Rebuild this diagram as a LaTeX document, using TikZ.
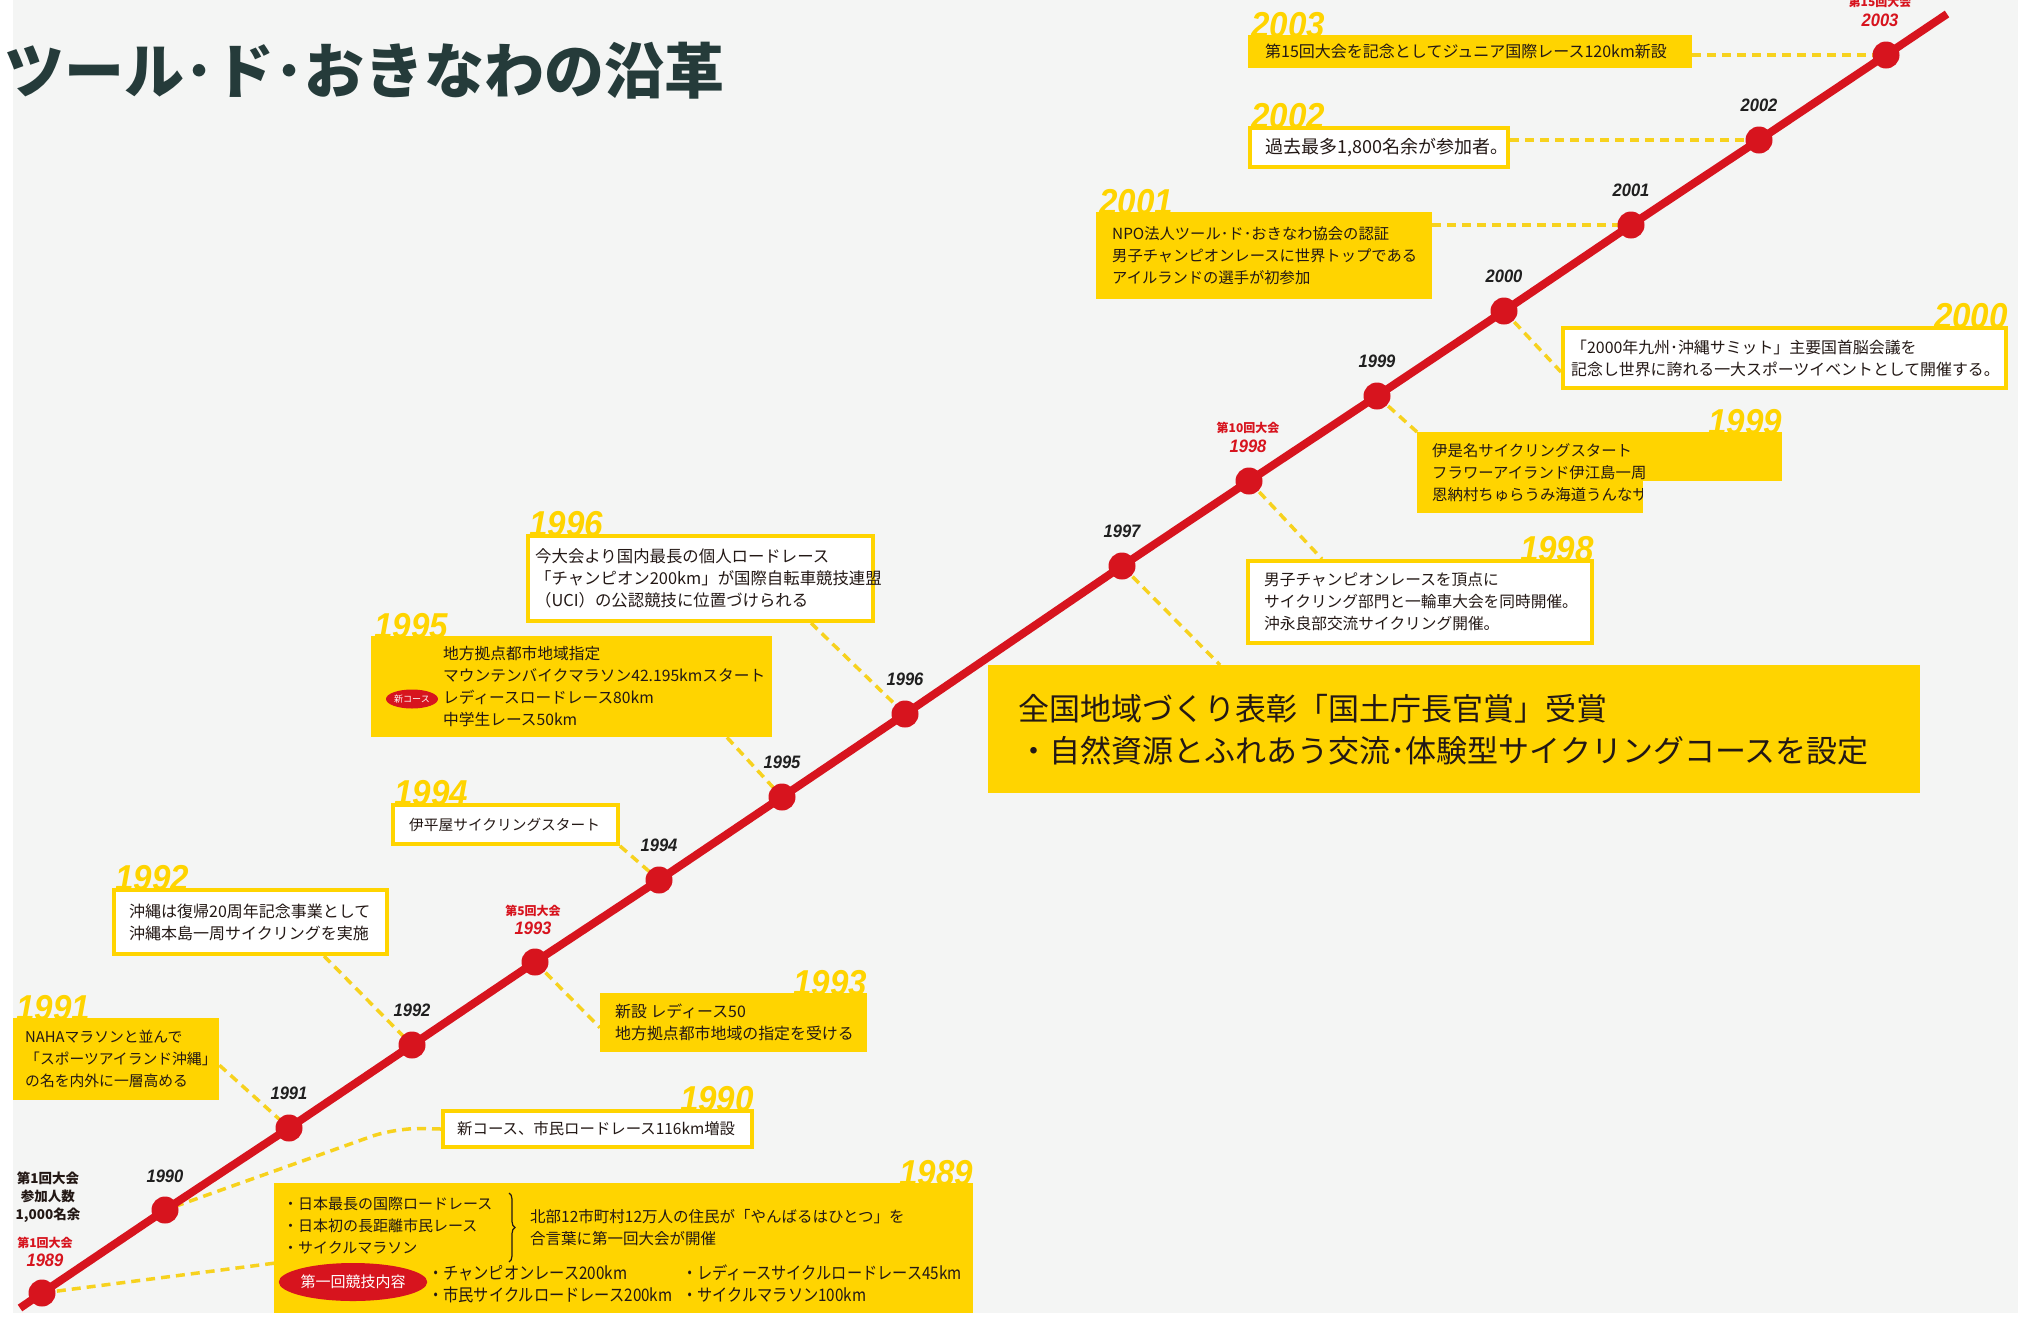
\documentclass[tikz,border=0pt]{standalone}
\usepackage{fontspec}
\setmainfont{Liberation Sans}
\newfontfamily\jp{Noto Sans CJK JP}
\newfontfamily\jpc[FakeStretch=0.88]{Noto Sans CJK JP}
\newfontfamily\yr[FakeStretch=0.92]{Liberation Sans}
\usetikzlibrary{calc,shapes.geometric,decorations.pathreplacing}
\definecolor{bgc}{HTML}{F4F5F4}
\definecolor{yel}{HTML}{FFD400}
\definecolor{connc}{HTML}{F7D21E}
\definecolor{rl}{HTML}{D7141E}
\definecolor{txt}{HTML}{231815}
\definecolor{ttl}{HTML}{253B3A}
\pgfdeclarelayer{under}
\pgfsetlayers{under,main}
\tikzset{
  ybox/.style={draw=none, fill=yel, inner sep=0, anchor=north west},
  wbox/.style={draw=yel, line width=4pt, fill=white, inner sep=0, anchor=north west},
  btxt/.style={font=\jp\fontsize{#1}{22}\selectfont, text=txt, align=left, inner sep=0, anchor=west},
  ctxt/.style={font=\jpc\fontsize{#1}{22}\selectfont, text=txt, align=left, inner sep=0, anchor=west},
  yrlab/.style={font=\yr\bfseries\itshape\fontsize{36}{36}\selectfont, text=yel, inner sep=0},
  dotc/.style={circle, fill=rl, minimum size=27pt, inner sep=0},
  dlab/.style={font=\yr\bfseries\itshape\fontsize{18}{18}\selectfont, text=black!88, inner sep=0},
  rsub/.style={font=\jp\bfseries\fontsize{12}{12}\selectfont, text=rl, inner sep=0},
  conn/.style={draw=connc, line width=3.5pt, dash pattern=on 9pt off 6pt},
  redline/.style={draw=rl, line width=8pt}
}
\begin{document}
\begin{tikzpicture}[x=1pt,y=-1pt]
\useasboundingbox (0,0) rectangle (2018,1318);

% title
\node[font=\jp\bfseries\fontsize{60}{60}\selectfont, text=ttl, anchor=west, inner sep=0] (title) at (4,71) {ツール･ド･おきなわの沿革};

% dots
\node[dotc] (d1989) at (42,1293) {};
\node[dotc] (d1990) at (165,1210) {};
\node[dotc] (d1991) at (289,1128) {};
\node[dotc] (d1992) at (412,1045) {};
\node[dotc] (d1993) at (535,962) {};
\node[dotc] (d1994) at (659,880) {};
\node[dotc] (d1995) at (782,797) {};
\node[dotc] (d1996) at (905,714) {};
\node[dotc] (d1997) at (1122,566) {};
\node[dotc] (d1998) at (1249,481) {};
\node[dotc] (d1999) at (1377,396) {};
\node[dotc] (d2000) at (1504,311) {};
\node[dotc] (d2001) at (1631,225) {};
\node[dotc] (d2002) at (1759,140) {};
\node[dotc] (d2003) at (1886,55) {};
\coordinate (ls) at (20,1308);
\coordinate (le) at (1947,14);

% dot labels
\node[dlab] (l1990) at (165,1176) {1990};
\node[dlab] (l1991) at (289,1093) {1991};
\node[dlab] (l1992) at (412,1010) {1992};
\node[dlab] (l1994) at (659,845) {1994};
\node[dlab] (l1995) at (782,762) {1995};
\node[dlab] (l1996) at (905,679) {1996};
\node[dlab] (l1997) at (1122,531) {1997};
\node[dlab] (l1999) at (1377,361) {1999};
\node[dlab] (l2000) at (1504,276) {2000};
\node[dlab] (l2001) at (1631,190) {2001};
\node[dlab] (l2002) at (1759,105) {2002};
\node[dlab, text=rl] (l1989) at (45,1260) {1989};
\node[rsub] (s1989) at (45,1243) {第1回大会};
\node[dlab, text=rl] (l1993) at (533,928) {1993};
\node[rsub] (s1993) at (533,911) {第5回大会};
\node[dlab, text=rl] (l1998) at (1248,446) {1998};
\node[rsub] (s1998) at (1248,428) {第10回大会};
\node[dlab, text=rl] (l2003) at (1880,20) {2003};
\node[rsub] (s2003) at (1880,2) {第15回大会};
\node[font=\jp\bfseries\fontsize{13.5}{18}\selectfont, text=txt, align=center, inner sep=0] (n1989) at (48,1197) {第1回大会\\参加人数\\1,000名余};

% boxes
\node[ybox, minimum width=444pt, minimum height=33pt] (b2003) at (1248,35) {};
\node[wbox, minimum width=258pt, minimum height=39pt] (b2002) at (1248,126) {};
\node[ybox, minimum width=336pt, minimum height=87pt] (b2001) at (1096,212) {};
\node[wbox, minimum width=443pt, minimum height=60pt] (b2000) at (1561,326) {};
\node[ybox, minimum width=365pt, minimum height=81pt] (b1999) at (1417,432) {};
\node[wbox, minimum width=344pt, minimum height=82pt] (b1998) at (1246,559) {};
\node[ybox, minimum width=932pt, minimum height=128pt] (bbig) at (988,665) {};
\node[wbox, minimum width=345pt, minimum height=85pt] (b1996) at (526,534) {};
\node[ybox, minimum width=401pt, minimum height=101pt] (b1995) at (371,636) {};
\node[wbox, minimum width=225pt, minimum height=39pt] (b1994) at (391,803) {};
\node[ybox, minimum width=267pt, minimum height=59pt] (b1993) at (600,993) {};
\node[wbox, minimum width=273pt, minimum height=64pt] (b1992) at (112,888) {};
\node[ybox, minimum width=206pt, minimum height=82pt] (b1991) at (13,1018) {};
\node[wbox, minimum width=309pt, minimum height=36pt] (b1990) at (441,1109) {};
\node[ybox, minimum width=699pt, minimum height=130pt] (b1989) at (274,1183) {};

% box texts
\node[btxt=16] (t2003) at ([xshift=17pt]b2003.west) {第15回大会を記念としてジュニア国際レース120km新設};
\node[btxt=18] (t2002) at ([xshift=17pt]b2002.west) {過去最多1,800名余が参加者。};
\node[btxt=15.3] (t2001) at ([xshift=16pt]b2001.west) {NPO法人ツール･ド･おきなわ協会の認証\\男子チャンピオンレースに世界トップである\\アイルランドの選手が初参加};
\node[btxt=15.9] (t2000) at ([xshift=10pt]b2000.west) {「2000年九州･沖縄サミット」主要国首脳会議を\\記念し世界に誇れる一大スポーツイベントとして開催する。};
\node[btxt=15.4] (t1999) at ([xshift=15pt]b1999.west) {伊是名サイクリングスタート\\フラワーアイランド伊江島一周\\恩納村ちゅらうみ海道うんなサ};
\fill[bgc] (1643,481) rectangle (1786,517);
\node[btxt=15.7] (t1998) at ([xshift=18pt]b1998.west) {男子チャンピオンレースを頂点に\\サイクリング部門と一輪車大会を同時開催。\\沖永良部交流サイクリング開催。};
\node[font=\jp\fontsize{31}{42}\selectfont, text=txt, align=left, inner sep=0, anchor=west] (tbig) at ([xshift=30pt]bbig.west) {全国地域づくり表彰「国土庁長官賞」受賞\\・自然資源とふれあう交流･体験型サイクリングコースを設定};
\node[btxt=16.4] (t1996) at ([xshift=9pt]b1996.west) {今大会より国内最長の個人ロードレース\\「チャンピオン200km」が国際自転車競技連盟\\（UCI）の公認競技に位置づけられる};
\node[btxt=15.7] (t1995) at ([xshift=72pt]b1995.west) {地方拠点都市地域指定\\マウンテンバイクマラソン42.195kmスタート\\レディースロードレース80km\\中学生レース50km};
\node[ellipse, fill=rl, minimum width=52pt, minimum height=19pt, inner sep=0, text=white, font=\jp\fontsize{9}{9}\selectfont] (e1995) at (412,699) {新コース};
\node[btxt=14.7] (t1994) at ([xshift=18pt]b1994.west) {伊平屋サイクリングスタート};
\node[btxt=15.9] (t1993) at ([xshift=15pt]b1993.west) {新設 レディース50\\地方拠点都市地域の指定を受ける};
\node[btxt=16] (t1992) at ([xshift=17pt]b1992.west) {沖縄は復帰20周年記念事業として\\沖縄本島一周サイクリングを実施};
\node[btxt=14.8] (t1991) at ([xshift=12pt]b1991.west) {NAHAマラソンと並んで\\「スポーツアイランド沖縄」\\の名を内外に一層高める};
\node[btxt=15.4] (t1990) at ([xshift=16pt]b1990.west) {新コース、市民ロードレース116km増設};

% 1989 box content
\node[btxt=15] (t1989a) at (283,1226) {・日本最長の国際ロードレース\\・日本初の長距離市民レース\\・サイクルマラソン};
\draw[decorate, decoration={brace, amplitude=6pt}, line width=1.2pt, draw=txt] (509,1193) -- (509,1262);
\node[btxt=15.5] (t1989b) at (530,1228) {北部12市町村12万人の住民が「やんばるはひとつ」を\\合言葉に第一回大会が開催};
\node[ellipse, fill=rl, minimum width=128pt, minimum height=38pt, inner sep=0, text=white, font=\jp\fontsize{15}{15}\selectfont] (e1989) at (353,1282) {第一回競技内容};
\node[ctxt=17.3] (t1989c) at (428,1284) {・チャンピオンレース200km\\・市民サイクルロードレース200km};
\node[ctxt=17.3] (t1989d) at (682,1284) {・レディースサイクルロードレース45km\\・サイクルマラソン100km};

\begin{pgfonlayer}{under}
\fill[white] (0,0) rectangle (2018,1318);
\fill[bgc] (13,0) rectangle (2018,1313);
% year labels
\node[yrlab, anchor=south west] (y2003) at ([xshift=3pt,yshift=-3pt]b2003.north west) {2003};
\node[yrlab, anchor=south west] (y2002) at ([xshift=3pt,yshift=-3pt]b2002.north west) {2002};
\node[yrlab, anchor=south west] (y2001) at ([xshift=3pt,yshift=-3pt]b2001.north west) {2001};
\node[yrlab, anchor=south east] (y2000) at ([yshift=-3pt]b2000.north east) {2000};
\node[yrlab, anchor=south east] (y1999) at ([yshift=-3pt]b1999.north east) {1999};
\node[yrlab, anchor=south east] (y1998) at ([yshift=-3pt]b1998.north east) {1998};
\node[yrlab, anchor=south west] (y1996) at ([xshift=3pt,yshift=-3pt]b1996.north west) {1996};
\node[yrlab, anchor=south west] (y1995) at ([xshift=3pt,yshift=-3pt]b1995.north west) {1995};
\node[yrlab, anchor=south west] (y1994) at ([xshift=3pt,yshift=-3pt]b1994.north west) {1994};
\node[yrlab, anchor=south east] (y1993) at ([yshift=-3pt]b1993.north east) {1993};
\node[yrlab, anchor=south west] (y1992) at ([xshift=3pt,yshift=-3pt]b1992.north west) {1992};
\node[yrlab, anchor=south west] (y1991) at ([xshift=3pt,yshift=-3pt]b1991.north west) {1991};
\node[yrlab, anchor=south east] (y1990) at ([yshift=-3pt]b1990.north east) {1990};
\node[yrlab, anchor=south east] (y1989) at ([yshift=-3pt]b1989.north east) {1989};
% connectors
\draw[conn] (d2003 -| b2003.east) -- (d2003.center);
\draw[conn] (d2002 -| b2002.east) -- (d2002.center);
\draw[conn] (d2001 -| b2001.east) -- (d2001.center);
\draw[conn] (d2000.center) -- ([yshift=-14pt]b2000.west);
\draw[conn] (d1999.center) -- (b1999.north west);
\draw[conn] (d1998.center) -- ([xshift=76pt]b1998.north west);
\draw[conn] (d1997.center) -- ([xshift=232pt]bbig.north west);
\draw[conn] ([xshift=285pt]b1996.south west) -- (d1996.center);
\draw[conn] ([xshift=356pt]b1995.south west) -- (d1995.center);
\draw[conn] (b1994.south east) -- (d1994.center);
\draw[conn] (d1993.center) -- ([yshift=-5pt]b1993.west);
\draw[conn] ([xshift=212pt]b1992.south west) -- (d1992.center);
\draw[conn] ([yshift=-6pt]b1991.east) -- (d1991.center);
\coordinate (k1990) at (395,1128);
\draw[conn, rounded corners=25pt] (b1990.west) -- (k1990) -- (d1990.center);
\draw[conn] (d1989.center) -- ([yshift=-15pt]b1989.west);
% red line
\draw[redline] (ls) -- (d1989.center) -- (d1990.center) -- (d1991.center) -- (d1992.center) -- (d1993.center) -- (d1994.center) -- (d1995.center) -- (d1996.center) -- (d1997.center) -- (d1998.center) -- (d1999.center) -- (d2000.center) -- (d2001.center) -- (d2002.center) -- (d2003.center) -- (le);
\end{pgfonlayer}
\end{tikzpicture}
\end{document}
